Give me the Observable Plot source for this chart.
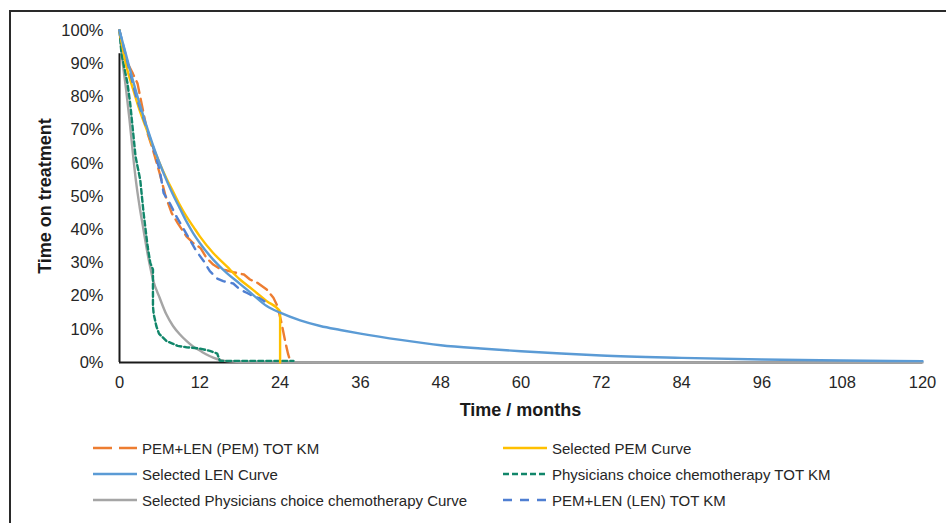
<!DOCTYPE html>
<html>
<head>
<meta charset="utf-8">
<script src="https://cdn.jsdelivr.net/npm/d3@7"></script>
<script src="https://cdn.jsdelivr.net/npm/@observablehq/plot@0.6"></script>
<style>
  html, body { margin: 0; padding: 0; background: #fff; }
  body { width: 946px; height: 523px; position: relative; overflow: hidden;
         font-family: "Liberation Sans", Arial, sans-serif; color: #262626; }
  #frame { position: absolute; left: 9px; top: 10px; width: 960px; height: 540px;
           border-left: 2px solid #2a2a2a; border-top: 2px solid #2a2a2a; }
  #chart { position: relative; }
  #legend { position: relative; display: grid; grid-template-columns: 410px 400px;
            padding-left: 93px; padding-top: 5px; row-gap: 0; }
  .item { display: flex; align-items: center; height: 26px; font-size: 15px; white-space: nowrap; }
  .item svg { margin-right: 5px; flex: none; }
</style>
</head>
<body>
<div id="frame"></div>
<div id="chart"></div>
<div id="legend"></div>
<script>
// Time-on-treatment curves, months vs. % of patients still on treatment.
const xTicks = [0, 12, 24, 36, 48, 60, 72, 84, 96, 108, 120];
const yTicks = [0, 10, 20, 30, 40, 50, 60, 70, 80, 90, 100];

// PEM+LEN (PEM) TOT KM
const pemKmMonths = [0, 0.5, 1, 1.5, 2, 2.7, 3.2, 3.6, 4.2, 5, 6, 6.9, 7.8, 8.7, 10, 11, 12.1, 13, 14, 15, 16.1, 17, 18.6, 19.5, 20.6, 22, 23, 23.6, 24.2, 24.8, 25.2, 25.6];
const pemKmPct    = [100, 95, 91, 89, 87, 84, 79, 75, 69, 64, 57, 50, 45, 42, 38, 36, 34.5, 31.5, 29.5, 28.2, 27.7, 27.2, 26.5, 25, 24, 22, 19.5, 17, 12, 6, 2.5, 0];

// Selected PEM Curve
const pemCurveMonths = [0, 1, 2, 3, 4, 5, 6, 7, 8, 9, 10, 11, 12, 14, 16, 18, 20, 22, 24, 24];
const pemCurvePct    = [100, 89.5, 82.5, 76, 70.5, 65, 60, 55.5, 51.5, 47.5, 44, 41, 38, 33, 29, 25, 21.8, 18.5, 15.3, 0];

// Selected LEN Curve
const lenCurveMonths = [0, 1, 2, 3, 4, 5, 6, 7, 8, 9, 10, 11, 12, 14, 16, 18, 20, 22, 24, 27, 30, 33, 36, 42, 48, 54, 60, 66, 72, 84, 96, 108, 120];
const lenCurvePct    = [100, 92.5, 85, 78, 71.5, 65.5, 60, 55, 50.5, 46.5, 42.5, 39, 36, 31, 27, 23.7, 20.3, 17, 15, 12.7, 11, 9.8, 8.7, 6.8, 5.2, 4.2, 3.4, 2.7, 2.1, 1.4, 0.9, 0.6, 0.4];

// Physicians choice chemotherapy TOT KM
const chemoKmMonths = [0, 0.3, 0.8, 1.2, 1.6, 2.0, 2.4, 2.8, 3.1, 3.6, 4.2, 4.6, 5.0, 5.0, 5.1, 5.5, 5.9, 7, 8.7, 10, 12, 13.5, 14.6, 15, 20, 26];
const chemoKmPct    = [100, 93, 88, 84, 78, 70, 62, 58, 55, 45, 35, 30, 28, 17, 14.7, 11, 8.7, 6.5, 5, 4.6, 4.2, 3.5, 2.7, 0.5, 0.5, 0.5];

// Selected Physicians choice chemotherapy Curve
const chemoCurveMonths = [0, 0.5, 1, 1.5, 2, 2.5, 3, 3.5, 4, 4.6, 5, 6, 7, 8, 9, 10, 11, 12, 13, 14, 15, 16, 18, 24, 36, 120];
const chemoCurvePct    = [100, 90, 82, 73, 63, 54, 47, 41, 35, 28.6, 25, 19.5, 14.5, 11, 8.5, 6.5, 4.8, 3.6, 2.4, 1.5, 0.8, 0.4, 0.15, 0.05, 0, 0];

// PEM+LEN (LEN) TOT KM
const lenKmMonths = [0, 0.5, 1, 1.5, 2, 2.5, 3, 3.5, 4, 4.5, 5, 6, 6.6, 7.5, 8.5, 9.5, 10.5, 11.5, 12.6, 13.5, 14.6, 15.5, 17, 18, 19, 20, 21, 22];
const lenKmPct    = [100, 96, 92, 88, 84, 80, 77, 74, 71, 68, 65, 58, 51, 48, 44, 40.5, 37, 33.5, 30.5, 27.5, 25.3, 24.5, 23.8, 22, 21, 20, 19.3, 18];

const seriesNames = [
  "PEM+LEN (PEM) TOT KM",
  "Selected PEM Curve",
  "Selected LEN Curve",
  "Physicians choice chemotherapy TOT KM",
  "Selected Physicians choice chemotherapy Curve",
  "PEM+LEN (LEN) TOT KM"
];

// stroke colour, dash used in the plot, dash used for the legend swatch
const styles = {
  "PEM+LEN (PEM) TOT KM": {stroke: "#ed7d31", dash: "12,6", key: "19,7"},
  "Selected PEM Curve": {stroke: "#ffc000", dash: null, key: null},
  "Selected LEN Curve": {stroke: "#5b9bd5", dash: null, key: null},
  "Physicians choice chemotherapy TOT KM": {stroke: "#11866a", dash: "5,3", key: "6,3"},
  "Selected Physicians choice chemotherapy Curve": {stroke: "#a5a5a5", dash: null, key: null},
  "PEM+LEN (LEN) TOT KM": {stroke: "#4f7fd2", dash: "8,7", key: "9,8"}
};

const rows = (xs, ys) => xs.map((m, i) => ({month: m, pct: ys[i]}));
const seriesData = {
  "PEM+LEN (PEM) TOT KM": rows(pemKmMonths, pemKmPct),
  "Selected PEM Curve": rows(pemCurveMonths, pemCurvePct),
  "Selected LEN Curve": rows(lenCurveMonths, lenCurvePct),
  "Physicians choice chemotherapy TOT KM": rows(chemoKmMonths, chemoKmPct),
  "Selected Physicians choice chemotherapy Curve": rows(chemoCurveMonths, chemoCurvePct),
  "PEM+LEN (LEN) TOT KM": rows(lenKmMonths, lenKmPct)
};

// drawing order: fitted curves under the KM traces where they overlap
const drawOrder = [
  "Selected Physicians choice chemotherapy Curve",
  "Physicians choice chemotherapy TOT KM",
  "PEM+LEN (PEM) TOT KM",
  "Selected PEM Curve",
  "PEM+LEN (LEN) TOT KM",
  "Selected LEN Curve"
];

const lineMarks = drawOrder.map(name => Plot.line(seriesData[name], {
  x: "month", y: "pct",
  stroke: styles[name].stroke,
  strokeWidth: 2.4,
  strokeDasharray: styles[name].dash || undefined,
  curve: name.startsWith("Selected") ? "monotone-x" : "linear"
}));

const chart = Plot.plot({
  width: 946,
  height: 430,
  marginLeft: 119,
  marginRight: 24,
  marginTop: 30,
  marginBottom: 68,
  style: {fontFamily: "'Liberation Sans', Arial, sans-serif", fontSize: "16.5px", color: "#262626", background: "transparent", overflow: "visible"},
  x: {domain: [0, 120], ticks: xTicks, tickSize: 0, tickPadding: 14, label: null},
  y: {domain: [0, 100], ticks: yTicks, tickFormat: d => d + "%", tickSize: 0, tickPadding: 16, label: null},
  marks: [
    Plot.ruleY([0], {stroke: "#1a1a1a", strokeWidth: 2}),
    Plot.ruleX([0], {y1: 0, y2: 93, stroke: "#1a1a1a", strokeWidth: 2}),
    ...lineMarks
  ]
});

document.getElementById("chart").appendChild(chart);

// axis titles
const svg = d3.select(chart);
const xs = chart.scale("x"), ys = chart.scale("y");
svg.append("text")
  .attr("x", (xs.apply(0) + xs.apply(120)) / 2)
  .attr("y", ys.apply(0) + 54)
  .attr("text-anchor", "middle")
  .attr("font-weight", "bold")
  .attr("font-size", 18)
  .attr("fill", "#1a1a1a")
  .text("Time / months");
svg.append("text")
  .attr("transform", `translate(${xs.apply(0) - 68},${(ys.apply(0) + ys.apply(100)) / 2}) rotate(-90)`)
  .attr("text-anchor", "middle")
  .attr("font-weight", "bold")
  .attr("font-size", 18)
  .attr("fill", "#1a1a1a")
  .text("Time on treatment");

// legend, two columns, row-major in series order
const legend = d3.select("#legend");
seriesNames.forEach(name => {
  const item = legend.append("div").attr("class", "item");
  const sw = item.append("svg").attr("width", 44).attr("height", 10);
  sw.append("line")
    .attr("x1", 0).attr("x2", 44).attr("y1", 5).attr("y2", 5)
    .attr("stroke", styles[name].stroke)
    .attr("stroke-width", 2.5)
    .attr("stroke-dasharray", styles[name].key);
  item.append("span").text(name);
});
</script>
</body>
</html>
